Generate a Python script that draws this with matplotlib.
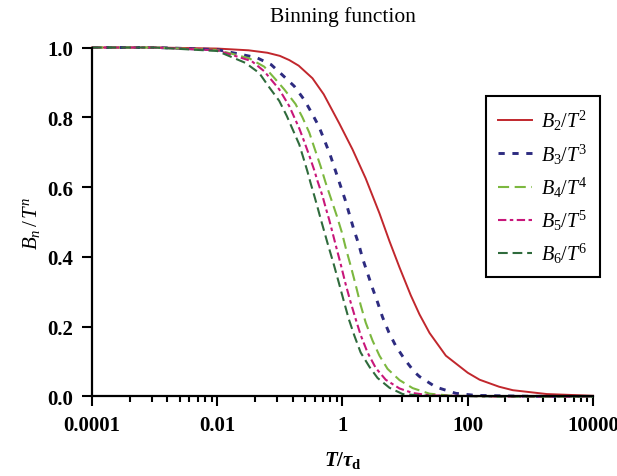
import numpy as np
import matplotlib
matplotlib.use('Agg')
import matplotlib.pyplot as plt
from matplotlib.ticker import FixedLocator, FixedFormatter, NullFormatter

plt.rcParams['font.family'] = 'Liberation Serif'
plt.rcParams['mathtext.fontset'] = 'custom'
plt.rcParams['mathtext.rm'] = 'Liberation Serif'
plt.rcParams['mathtext.it'] = 'Liberation Serif:italic'
plt.rcParams['mathtext.bf'] = 'Liberation Serif:bold'
plt.rcParams['mathtext.bfit'] = 'Liberation Serif:italic:bold'
plt.rcParams['lines.scale_dashes'] = False

# values: log10(T/tau_d) and B_n/T^n
logt_b2 = [-4, -3, -2, -1.5, -1.2, -1, -0.85, -0.7, -0.48, -0.3, -0.05, 0.16, 0.37, 0.59,
           0.75, 0.91, 1.09, 1.23, 1.39, 1.65, 2.0, 2.19, 2.5, 2.72, 3.26, 4]
b2 = [1.0, 1.0, 0.997, 0.992, 0.985, 0.976, 0.964, 0.948, 0.912, 0.866, 0.782, 0.708, 0.625,
      0.525, 0.445, 0.370, 0.290, 0.235, 0.182, 0.117, 0.068, 0.048, 0.028, 0.018, 0.007, 0.002]

logt_b3 = [-4, -3, -2, -1.37, -1.14, -0.97, -0.77, -0.61, -0.49, -0.38, -0.29, -0.2,
           -0.12, -0.04, 0.04, 0.11, 0.18, 0.26, 0.32, 0.4, 0.48, 0.56, 0.64, 0.74,
           0.85, 0.99, 1.15, 1.23, 1.49, 1.81, 2.13, 3, 4]
b3 = [1.0, 1.0, 0.994, 0.971, 0.951, 0.923, 0.889, 0.850, 0.812, 0.775, 0.735, 0.694,
      0.651, 0.608, 0.565, 0.522, 0.479, 0.436, 0.396, 0.353, 0.310, 0.270, 0.227, 0.184,
      0.145, 0.107, 0.070, 0.057, 0.027, 0.009, 0.003, 0.0005, 0.0]

logt_b4 = [-4, -3, -2, -1.49, -1.25, -1.07, -0.93, -0.75, -0.64, -0.53, -0.45, -0.35,
           -0.27, -0.18, -0.09, -0.01, 0.05, 0.13, 0.21, 0.29, 0.37, 0.48, 0.59, 0.72,
           0.91, 1.12, 1.39, 1.75, 2.5, 4]
b4 = [1.0, 1.0, 0.993, 0.969, 0.945, 0.909, 0.880, 0.838, 0.800, 0.756, 0.713, 0.660,
      0.613, 0.565, 0.517, 0.470, 0.427, 0.375, 0.320, 0.262, 0.212, 0.160, 0.117, 0.079,
      0.047, 0.024, 0.008, 0.002, 0.0, 0.0]

logt_b5 = [-4, -3, -2, -1.45, -1.25, -1.01, -0.85, -0.69, -0.61, -0.53, -0.45, -0.4,
           -0.32, -0.27, -0.21, -0.16, -0.11, -0.03, 0.05, 0.13, 0.21, 0.29, 0.4, 0.53,
           0.69, 0.91, 1.12, 1.4, 2.5, 4]
b5 = [1.0, 1.0, 0.992, 0.961, 0.932, 0.880, 0.832, 0.768, 0.730, 0.690, 0.648, 0.618,
      0.575, 0.542, 0.505, 0.470, 0.435, 0.380, 0.322, 0.270, 0.222, 0.176, 0.126, 0.082,
      0.048, 0.023, 0.010, 0.003, 0.0, 0.0]

logt_b6 = [-4, -3, -2, -1.55, -1.33, -1.17, -1.01, -0.89, -0.69, -0.61, -0.56, -0.51,
           -0.45, -0.4, -0.35, -0.29, -0.24, -0.14, -0.06, 0.02, 0.1, 0.19, 0.29, 0.43,
           0.56, 0.75, 0.96, 1.3, 2.5, 4]
b6 = [1.0, 1.0, 0.99, 0.956, 0.927, 0.886, 0.847, 0.804, 0.722, 0.675, 0.645, 0.612,
      0.575, 0.543, 0.510, 0.472, 0.440, 0.379, 0.327, 0.274, 0.222, 0.174, 0.126, 0.085,
      0.053, 0.025, 0.007, 0.002, 0.0, 0.0]

labels = [r'$B_2/T^2$', r'$B_3/T^3$', r'$B_4/T^4$', r'$B_5/T^5$', r'$B_6/T^6$']
colors = ['#c1272d', '#2d2b80', '#7cb83f', '#c8177a', '#2f6b3c']
x_ticks = [1e-4, 1e-2, 1, 1e2, 1e4]
x_ticklabels = ['0.0001', '0.01', '1', '100', '10000']
y_ticks = [0.0, 0.2, 0.4, 0.6, 0.8, 1.0]

fig = plt.figure(figsize=(6.17, 4.77), dpi=100)
ax = fig.add_axes([0.1491, 0.1667, 0.812, 0.7316])

series = [(logt_b2, b2), (logt_b3, b3), (logt_b4, b4), (logt_b5, b5), (logt_b6, b6)]
styles = [
    dict(lw=1.4, ls='-'),
    dict(lw=2.1, ls=(0, (4.5, 5.5))),
    dict(lw=1.5, ls=(0, (8, 4))),
    dict(lw=1.5, ls=(0, (6, 2.5, 2.5, 2.5))),
    dict(lw=1.5, ls=(0, (7, 3.5))),
]
for (lt, b), lab, c, st in zip(series, labels, colors, styles):
    ax.plot(10 ** np.array(lt), b, color=c, label=lab, clip_on=False, **st)

ax.set_xscale('log')
ax.set_xlim(1e-4, 1e4)
ax.set_ylim(0, 1.0)

# minor ticks: the original spaces them across each two-decade interval
minor = [10 ** (base + 2 * np.log10(k)) for base in (-4, -2, 0, 2) for k in range(2, 10)]
ax.xaxis.set_major_locator(FixedLocator(x_ticks))
ax.xaxis.set_major_formatter(FixedFormatter(x_ticklabels))
ax.xaxis.set_minor_locator(FixedLocator(minor))
ax.xaxis.set_minor_formatter(NullFormatter())
ax.set_yticks(y_ticks)
ax.set_yticklabels(['%.1f' % v for v in y_ticks])

for side in ('top', 'right'):
    ax.spines[side].set_visible(False)
for side in ('left', 'bottom'):
    ax.spines[side].set_linewidth(1.6)

ax.tick_params(which='major', direction='out', length=7.5, width=1.5, pad=6,
               labelsize=15)
ax.tick_params(which='minor', direction='out', length=4.5, width=1.5)
for t in ax.get_xticklabels() + ax.get_yticklabels():
    t.set_fontweight('bold')

ax.set_title('Binning function', fontsize=15.5, pad=19)
ax.set_xlabel(r'$\mathbfit{T}\mathbf{/}\mathbfit{\tau}_{\mathbf{d}}$', fontsize=15, labelpad=10)
ax.set_ylabel(r'$B_n\,/\,T^n$', fontsize=15, labelpad=4)

leg = ax.legend(loc='upper left', bbox_to_anchor=(486 / 617, 1 - 97 / 477),
                bbox_transform=fig.transFigure, borderaxespad=0, fontsize=14.5,
                fancybox=False, framealpha=1, edgecolor='black', handlelength=1.7,
                handletextpad=0.45, labelspacing=0.45, borderpad=0.6)
leg.get_frame().set_linewidth(1.5)

fig.savefig('out.png', dpi=100)
